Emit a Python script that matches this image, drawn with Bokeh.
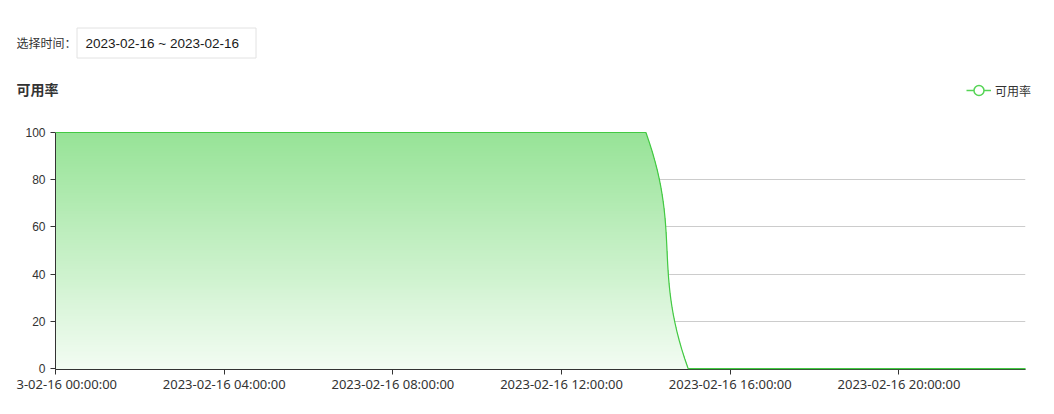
import math
from datetime import datetime
import numpy as np
from bokeh.plotting import figure
from bokeh.layouts import column
from bokeh.models import (Range1d, Legend, LegendItem, FixedTicker)
from bokeh.core.properties import value
from bokeh.embed import file_html
from bokeh.resources import INLINE

# ---------------- data ----------------
date_range_text = "2023-02-16 ~ 2023-02-16"
picker_label = "选择时间："
chart_title = "可用率"
series_name = "可用率"
day = datetime(2023, 2, 16)
hours = [0, 1, 2, 3, 4, 5, 6, 7, 8, 9, 10, 11, 12, 13, 14, 15, 16, 17, 18, 19, 20, 21, 22, 23]
availability = [100, 100, 100, 100, 100, 100, 100, 100, 100, 100, 100, 100, 100, 100, 100,
                0, 0, 0, 0, 0, 0, 0, 0, 0]
tick_hours = [0, 4, 8, 12, 16, 20]
tick_labels = ["3-02-16 00:00:00", "2023-02-16 04:00:00", "2023-02-16 08:00:00",
               "2023-02-16 12:00:00", "2023-02-16 16:00:00", "2023-02-16 20:00:00"]
y_ticks = [0, 20, 40, 60, 80, 100]

# ---------------- layout constants ----------------
CJK = "Noto Sans CJK SC"
LAT = "Liberation Sans"
GREEN = "#43c943"
W = 1030
HH = 114                      # header canvas height (page y 8..122)
H = 284                       # chart canvas height (page y 122..406)
ML, MR, MT, MB = 39, 21, 10, 37
FW, FH = W - ML - MR, H - MT - MB

MS_H = 3600 * 1000.0
t0 = (day - datetime(1970, 1, 1)).total_seconds() * 1000.0
xs = [t0 + h * MS_H for h in hours]
x_start, x_end = xs[0], xs[-1]
y_start, y_end = 0, 100
y_pad = 0.4                   # tiny room below 0 so the green line at 0 is not clipped

# smoothing (echarts-like bezier) computed in pixel space
sx = FW / (x_end - x_start)
sy = FH / (y_end - y_start + y_pad)
px = [(x - x_start) * sx for x in xs]
py = [(y - y_start) * sy for y in availability]


def clamp(v, a, b):
    lo, hi = min(a, b), max(a, b)
    return max(lo, min(hi, v))


def smooth_curve(px, py, smooth=0.5, steps=30):
    n = len(px)
    cps = []
    for i in range(n):
        x, y = px[i], py[i]
        if i == 0 or i == n - 1:
            cps.append(((x, y), (x, y)))
            continue
        xp, yp, xn, yn = px[i - 1], py[i - 1], px[i + 1], py[i + 1]
        vx, vy = xn - xp, yn - yp
        lp = math.hypot(x - xp, y - yp)
        ln = math.hypot(xn - x, yn - y)
        r = ln / (ln + lp) if (ln + lp) > 0 else 0.5
        cin = (clamp(x - vx * smooth * (1 - r), xp, x), clamp(y - vy * smooth * (1 - r), yp, y))
        cout = (clamp(x + vx * smooth * r, x, xn), clamp(y + vy * smooth * r, y, yn))
        cps.append((cin, cout))
    ox, oy = [px[0]], [py[0]]
    t = np.linspace(0, 1, steps + 1)[1:]
    for i in range(n - 1):
        p0 = (px[i], py[i]); p3 = (px[i + 1], py[i + 1])
        c1 = cps[i][1]; c2 = cps[i + 1][0]
        a = (1 - t) ** 3; b = 3 * (1 - t) ** 2 * t; c = 3 * (1 - t) * t ** 2; d = t ** 3
        ox.extend(a * p0[0] + b * c1[0] + c * c2[0] + d * p3[0])
        oy.extend(a * p0[1] + b * c1[1] + c * c2[1] + d * p3[1])
    return np.array(ox), np.array(oy)


cx, cy = smooth_curve(px, py)
curve_x = x_start + cx / sx
curve_y = y_start + cy / sy

# ---------------- header (page-pixel coordinates) ----------------
hdr = figure(width=W, height=HH, output_backend="svg", toolbar_location=None,
             x_range=Range1d(16, 16 + W), y_range=Range1d(8 + HH, 8),
             x_axis_location=None, y_axis_location=None,
             min_border=0, outline_line_color=None,
             background_fill_color="white", border_fill_color="white")
hdr.frame_align = False
hdr.xgrid.visible = False
hdr.ygrid.visible = False
hdr.text(x=[16], y=[42], text=[picker_label], text_font=value(CJK), text_font_size="12px",
         text_color="#333333", text_baseline="middle", text_align="left")
hdr.quad(left=[76.5], right=[255.5], top=[27.5], bottom=[57.5], fill_color="white",
         line_color="#e2e2e2", line_width=1)
hdr.text(x=[85], y=[43], text=[date_range_text], text_font=value(LAT), text_font_size="13.5px",
         text_color="#1a1a1a", text_baseline="middle", text_align="left")
hdr.text(x=[16], y=[88], text=[chart_title], text_font=value(CJK), text_font_size="14px",
         text_font_style="bold", text_color="#333333", text_baseline="middle", text_align="left")
lg_line = hdr.line(x=[0, 1], y=[0, 1], line_color="#55d455", line_width=1.5, visible=False)
lg_mark = hdr.scatter(x=[0], y=[0], marker="circle", size=11, fill_color="white",
                      line_color="#55d455", line_width=1.5, visible=False)
legend = Legend(items=[LegendItem(label=series_name, renderers=[lg_line, lg_mark])],
                location=(966 - 16, (8 + HH) - 104), orientation="horizontal",
                glyph_width=25, glyph_height=28, label_height=14, label_standoff=4,
                padding=0, margin=0, spacing=0, border_line_color=None,
                background_fill_alpha=0, label_text_font=CJK, label_text_font_size="12px",
                label_text_color="#333333")
hdr.add_layout(legend)

# ---------------- chart ----------------
p = figure(width=W, height=H, output_backend="svg", toolbar_location=None,
           x_range=Range1d(x_start, x_end), y_range=Range1d(y_start - y_pad, y_end),
           min_border_left=ML, min_border_right=MR, min_border_top=MT, min_border_bottom=MB,
           background_fill_color="white", border_fill_color="white", outline_line_color=None)
p.frame_align = False

# gradient fill built from overlapping layers (top colour first)
top_rgb = np.array([150, 227, 150])
bot_rgb = np.array([243, 252, 243])
N = 90
for k in range(N - 1, -1, -1):
    y1 = y_start + (y_end - y_start) * (k + 1) / N
    f = (k + 0.5) / N
    col = bot_rgb + (top_rgb - bot_rgb) * f
    hexc = "#%02x%02x%02x" % tuple(int(round(c)) for c in col)
    p.varea(x=curve_x, y1=np.full_like(curve_y, y_start - y_pad), y2=np.minimum(curve_y, y1),
            fill_color=hexc, fill_alpha=1.0)

p.line(curve_x, curve_y, line_color=GREEN, line_width=1.2, level="overlay")

# axes
tick_vals = [t0 + h * MS_H for h in tick_hours]
p.xaxis.ticker = FixedTicker(ticks=tick_vals)
p.xaxis.major_label_overrides = dict(zip(tick_vals, tick_labels))
p.yaxis.ticker = FixedTicker(ticks=y_ticks)
for ax in (p.xaxis[0], p.yaxis[0]):
    ax.axis_line_color = "#333333"
    ax.major_tick_line_color = "#333333"
    ax.minor_tick_line_color = None
    ax.major_tick_in = 0
    ax.major_tick_out = 5
    ax.major_label_text_color = "#333333"
p.xaxis.major_label_text_font = "Noto Sans"
p.xaxis.major_label_text_font_size = "13px"
p.yaxis.major_label_text_font = LAT
p.yaxis.major_label_text_font_size = "12px"
p.xaxis.major_label_standoff = 0
p.yaxis.major_label_standoff = 5
p.xgrid.grid_line_color = None
p.ygrid.ticker = FixedTicker(ticks=y_ticks[1:])
p.ygrid.grid_line_color = "#cccccc"
p.ygrid.grid_line_width = 1

layout = column(hdr, p, spacing=0)
layout.margin = (8, 0, 0, 16)

open("out.html", "w").write(file_html(layout, INLINE))
